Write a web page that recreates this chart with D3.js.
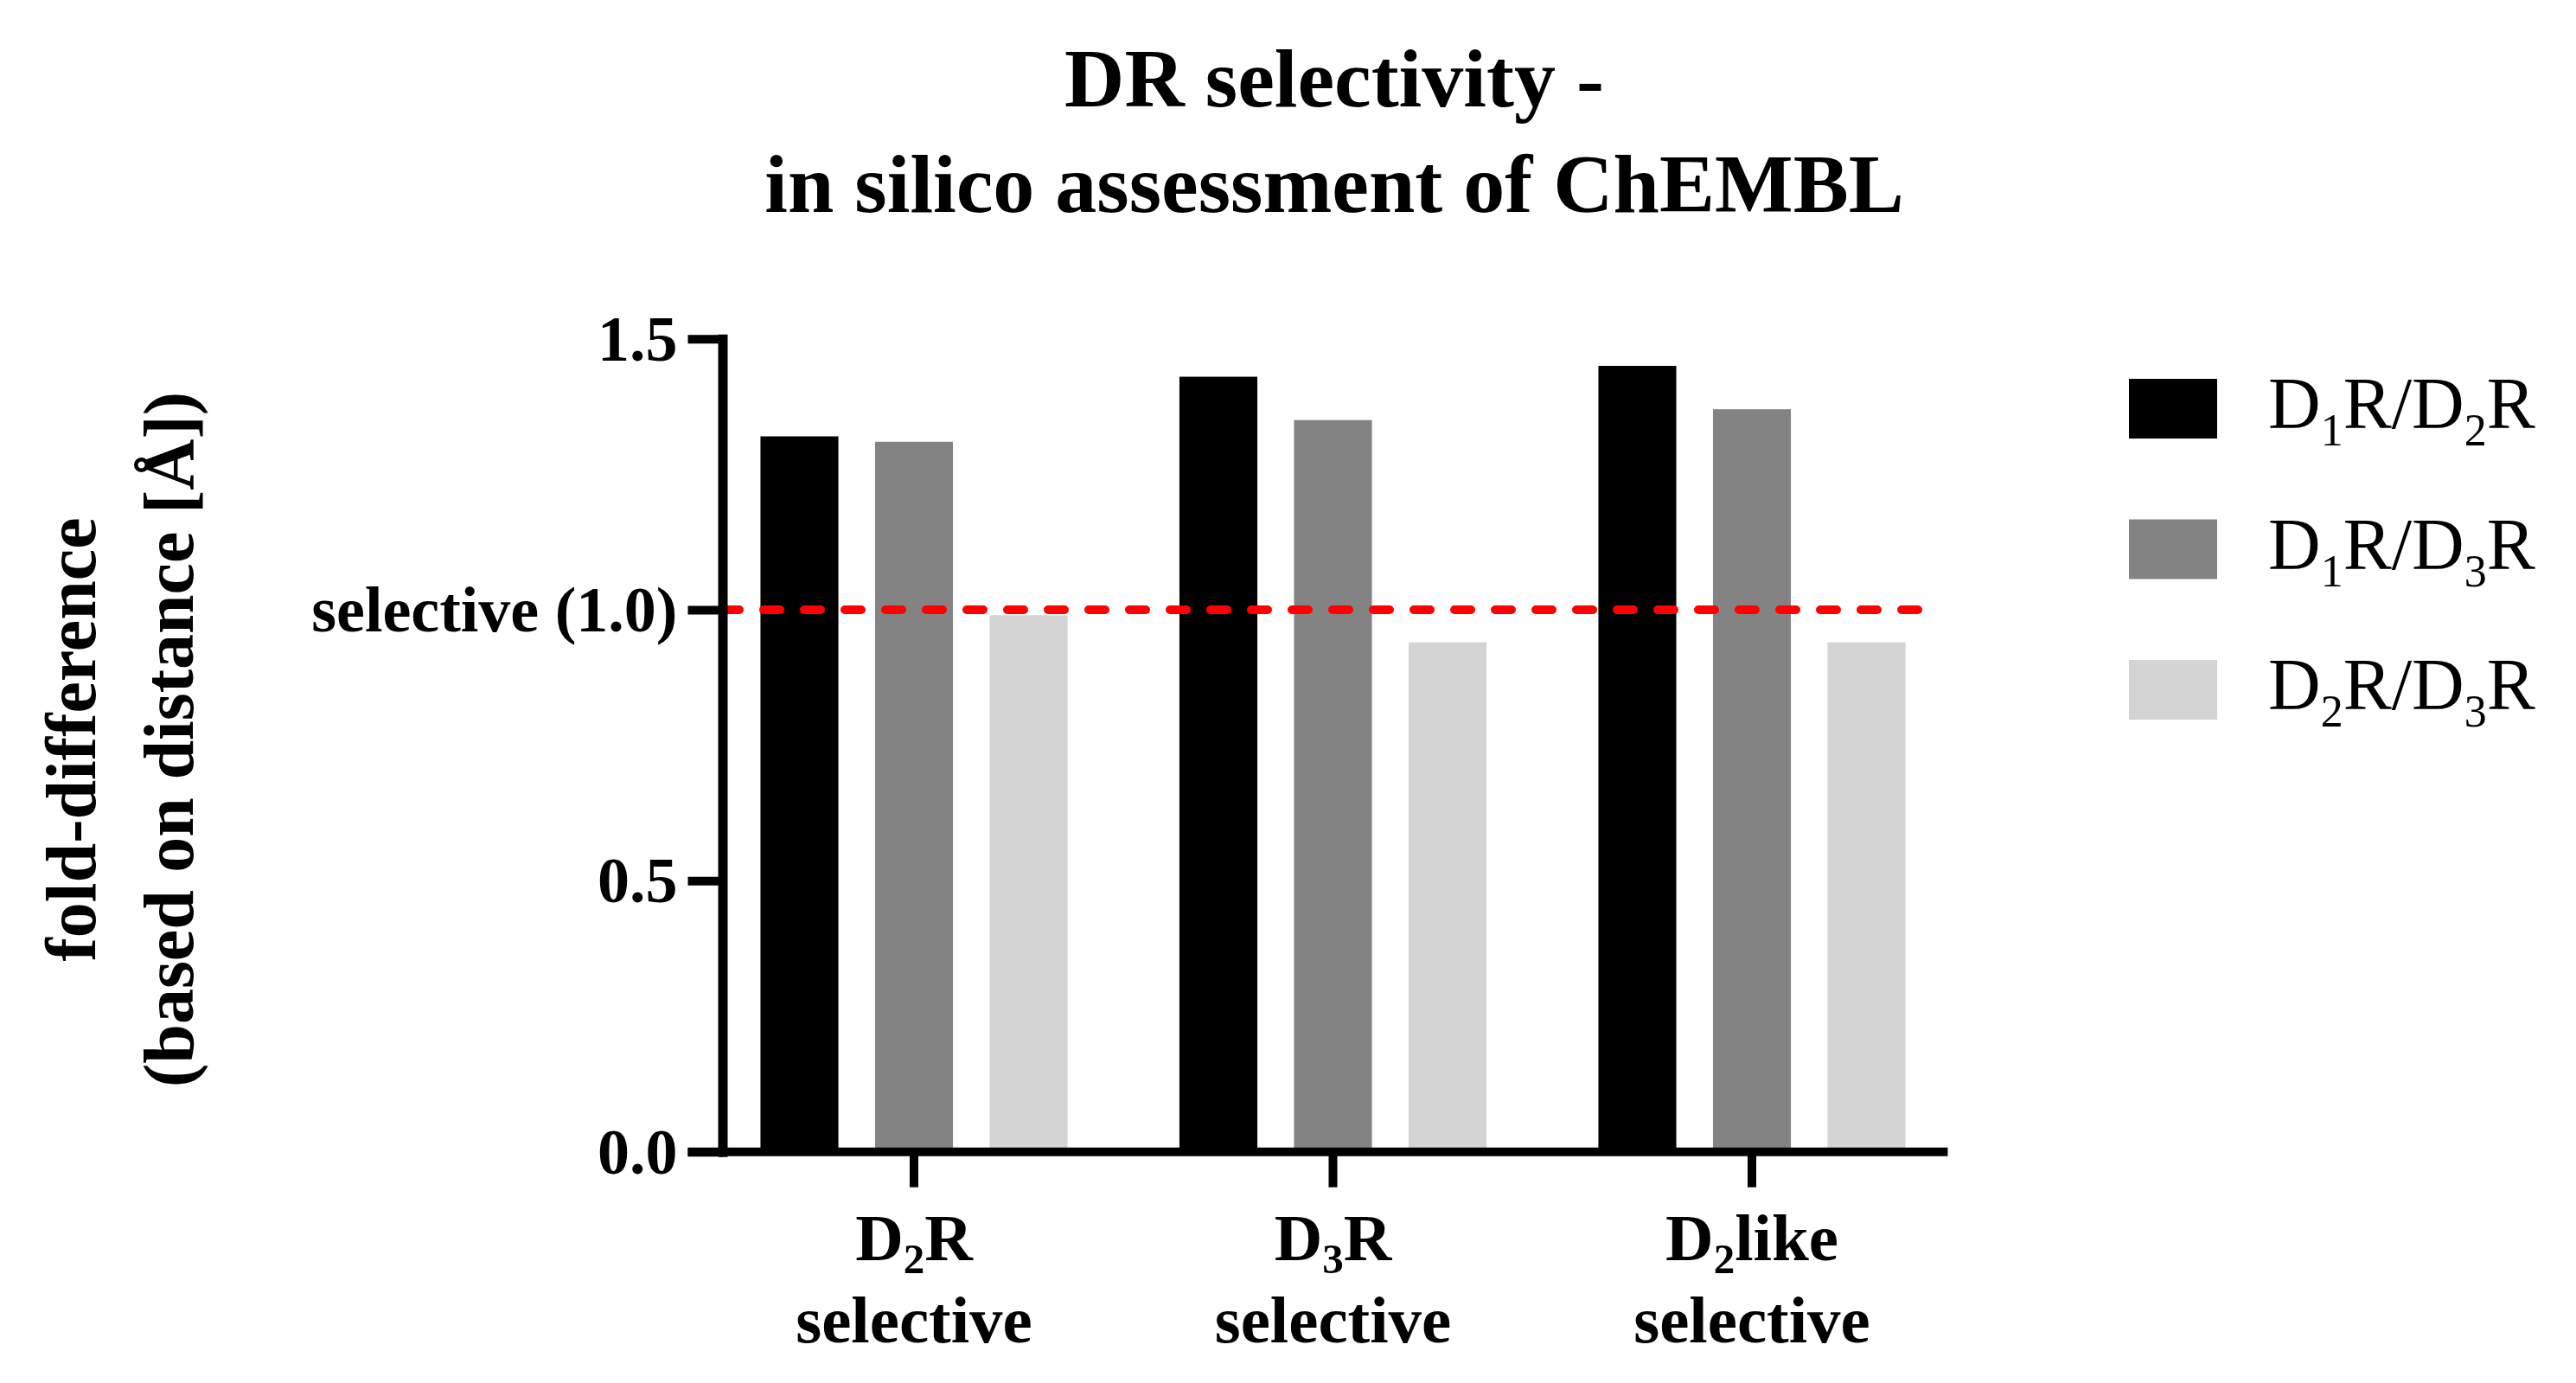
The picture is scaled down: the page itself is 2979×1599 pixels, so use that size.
<!DOCTYPE html>
<html>
<head>
<meta charset="utf-8">
<script src="https://cdn.jsdelivr.net/npm/d3@7/dist/d3.min.js"></script>
<style>
  html, body { margin: 0; padding: 0; background: #fff; }
  svg { display: block; }
  text { font-family: "Liberation Serif", "Times New Roman", serif; fill: #000; }
</style>
</head>
<body>
<svg id="chart" width="2979" height="1599"></svg>
<script>
// ---- data ----
const categories = ["D2R", "D3R", "D2like"];
const categorySecondLine = "selective";
const seriesNames = ["D1R/D2R", "D1R/D3R", "D2R/D3R"];
const seriesColors = ["#000000", "#838383", "#d4d4d4"];
const valuesD1D2 = [1.32, 1.43, 1.45];
const valuesD1D3 = [1.31, 1.35, 1.37];
const valuesD2D3 = [0.99, 0.94, 0.94];
const yTickValues = [0, 0.5, 1.0, 1.5];
const yTickLabels = ["0.0", "0.5", "selective (1.0)", "1.5"];
const thresholdValue = 1.0;
const titleLines = ["DR selectivity -", "in silico assessment of ChEMBL"];
const yTitleLines = ["fold-difference", "(based on distance [Å])"];

const seriesValues = [valuesD1D2, valuesD1D3, valuesD2D3];

// ---- layout ----
const svg = d3.select("#chart");
const axisX = 835.5;
const groupStep = 484.5;
const firstCenter = 1057;

const y = d3.scaleLinear().domain([0, 1.5]).range([1331.7, 391.7]);
const x = d3.scaleBand()
  .domain(categories)
  .range([firstCenter - groupStep / 2, firstCenter + groupStep * 2.5])
  .padding(0);
const xInner = d3.scaleBand()
  .domain(seriesNames)
  .range([-198.75, 198.75])
  .paddingInner(0.32)
  .paddingOuter(0.16);

function subText(sel, str, subSize, shift) {
  const parts = str.split(/(\d)/).filter(p => p.length);
  let prevSub = false;
  parts.forEach(p => {
    const isSub = /^\d$/.test(p);
    const t = sel.append("tspan").text(p);
    if (isSub) {
      t.attr("font-size", subSize).attr("dy", shift);
      prevSub = true;
    } else {
      if (prevSub) t.attr("dy", -shift);
      prevSub = false;
    }
  });
}

// ---- title ----
svg.append("g").selectAll("text").data(titleLines).join("text")
  .attr("x", 1543)
  .attr("y", (d, i) => 123 + i * 122)
  .attr("text-anchor", "middle")
  .attr("font-size", 96)
  .attr("font-weight", "bold")
  .text(d => d);

// ---- y title ----
svg.append("g").attr("transform", "translate(0,855) rotate(-90)")
  .selectAll("text").data(yTitleLines).join("text")
  .attr("x", 0)
  .attr("y", (d, i) => 110 + i * 113)
  .attr("text-anchor", "middle")
  .attr("font-size", 82)
  .attr("font-weight", "bold")
  .text(d => d);

// ---- bars ----
const barData = [];
categories.forEach((c, ci) => {
  seriesNames.forEach((s, si) => {
    barData.push({ cat: c, series: s, value: seriesValues[si][ci], color: seriesColors[si] });
  });
});
svg.append("g").selectAll("rect").data(barData).join("rect")
  .attr("x", d => x(d.cat) + x.bandwidth() / 2 + xInner(d.series))
  .attr("width", xInner.bandwidth())
  .attr("y", d => y(d.value))
  .attr("height", d => y(0) - y(d.value))
  .attr("fill", d => d.color);

// ---- threshold line ----
svg.append("line")
  .attr("x1", axisX + 0.5)
  .attr("x2", 2240)
  .attr("y1", y(thresholdValue))
  .attr("y2", y(thresholdValue))
  .attr("stroke", "#ff0000")
  .attr("stroke-width", 10)
  .attr("stroke-dasharray", "19,28")
  .attr("stroke-linecap", "round");

// ---- y axis ----
const yAxis = d3.axisLeft(y)
  .tickValues(yTickValues)
  .tickSize(40)
  .tickSizeOuter(0)
  .tickPadding(12)
  .tickFormat((d, i) => yTickLabels[i]);
const gy = svg.append("g").attr("transform", `translate(${axisX},0)`).call(yAxis);
gy.select(".domain").attr("stroke", "#000").attr("stroke-width", 11).attr("stroke-linecap", "square");
gy.selectAll(".tick line").attr("stroke", "#000").attr("stroke-width", 10);
gy.selectAll(".tick text")
  .attr("font-family", "Liberation Serif, Times New Roman, serif")
  .attr("font-size", 74)
  .attr("font-weight", "bold")
  .attr("fill", "#000")
  .attr("dy", "0.33em");

// ---- x axis ----
const xAxis = d3.axisBottom(x).tickSize(41).tickSizeOuter(0).tickFormat("");
const gx = svg.append("g").attr("transform", `translate(0,${y(0)})`).call(xAxis);
gx.select(".domain").remove();
gx.selectAll(".tick line").attr("stroke", "#000").attr("stroke-width", 10);
gx.append("line")
  .attr("x1", axisX - 40)
  .attr("x2", 2252.5)
  .attr("y1", 0).attr("y2", 0)
  .attr("stroke", "#000")
  .attr("stroke-width", 10);

// category labels
const catG = svg.append("g");
categories.forEach(c => {
  const cx = x(c) + x.bandwidth() / 2;
  const t1 = catG.append("text")
    .attr("x", cx).attr("y", 1457)
    .attr("text-anchor", "middle")
    .attr("font-size", 77)
    .attr("font-weight", "bold");
  subText(t1, c, 49, 15);
  catG.append("text")
    .attr("x", cx).attr("y", 1552)
    .attr("text-anchor", "middle")
    .attr("font-size", 77)
    .attr("font-weight", "bold")
    .text(categorySecondLine);
});

// ---- legend ----
const legend = svg.append("g").selectAll("g").data(seriesNames).join("g")
  .attr("transform", (d, i) => `translate(2462,${438 + i * 162.5})`);
legend.append("rect")
  .attr("width", 102).attr("height", 69)
  .attr("fill", (d, i) => seriesColors[i]);
legend.each(function (d) {
  const t = d3.select(this).append("text")
    .attr("x", 161).attr("y", 57)
    .attr("font-size", 84);
  subText(t, d, 52, 20);
});
</script>
</body>
</html>
